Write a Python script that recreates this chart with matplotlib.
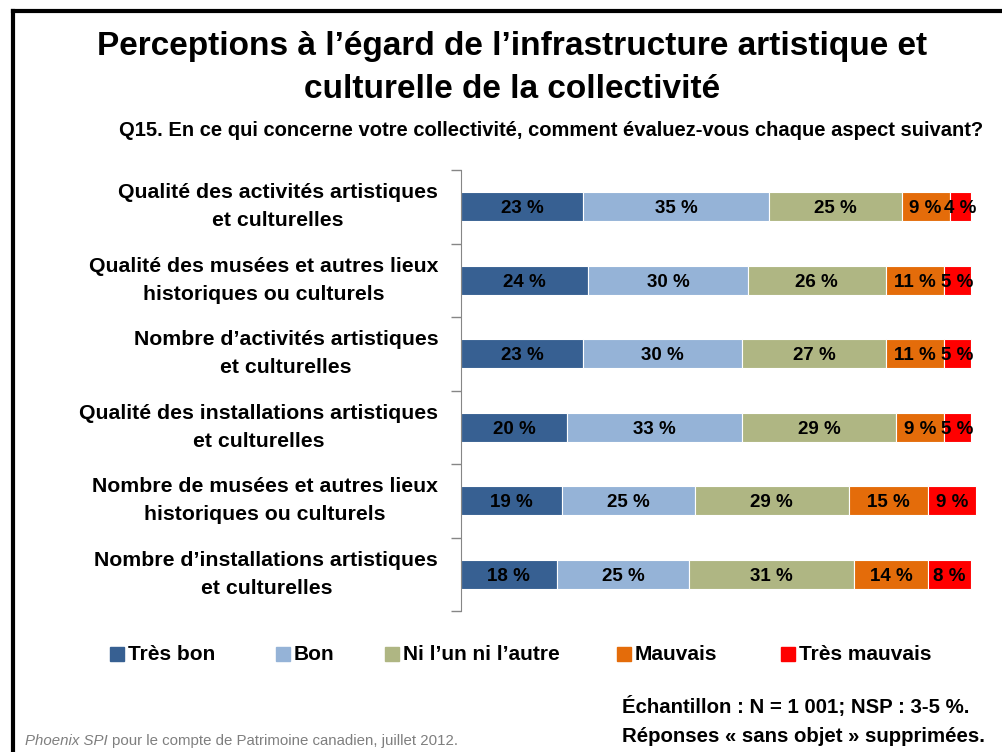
import matplotlib
matplotlib.use("Agg")
import matplotlib.pyplot as plt
from matplotlib.patches import Rectangle
from matplotlib.lines import Line2D

plt.rcParams['font.family'] = ['Liberation Sans', 'DejaVu Sans']

categories = [
    "Qualité des activités artistiques\net culturelles",
    "Qualité des musées et autres lieux\nhistoriques ou culturels",
    "Nombre d\u2019activités artistiques\net culturelles",
    "Qualité des installations artistiques\net culturelles",
    "Nombre de musées et autres lieux\nhistoriques ou culturels",
    "Nombre d\u2019installations artistiques\net culturelles",
]
series = ["Très bon", "Bon", "Ni l\u2019un ni l\u2019autre", "Mauvais", "Très mauvais"]
tres_bon = [23, 24, 23, 20, 19, 18]
bon = [35, 30, 30, 33, 25, 25]
ni = [25, 26, 27, 29, 29, 31]
mauvais = [9, 11, 11, 9, 15, 14]
tres_mauvais = [4, 5, 5, 5, 9, 8]
values = [tres_bon, bon, ni, mauvais, tres_mauvais]
colors = ["#376092", "#95B3D7", "#AFB683", "#E46C0A", "#FF0000"]

fig = plt.figure(figsize=(10.02, 7.52), dpi=100)
W, H = 1002, 752

def fx(px): return px / W
def fy(py): return 1 - py / H

ax = fig.add_axes([fx(461), fy(611), (992 - 461) / W, (611 - 170) / H])

ypos = list(range(len(categories)))
left = [0] * len(categories)
for vals, col in zip(values, colors):
    bars = ax.barh(ypos, vals, left=left, height=0.4, color=col,
                   edgecolor="white", linewidth=0.8)
    for b, v in zip(bars, vals):
        ax.text(b.get_x() + b.get_width() / 2, b.get_y() + b.get_height() / 2,
                f"{v} %", ha="center", va="center_baseline", fontsize=13.5,
                fontweight="bold", color="black")
    left = [a + b for a, b in zip(left, vals)]

ax.set_xlim(0, 100)
ax.set_ylim(len(categories) - 0.5, -0.5)
ax.set_xticks([])
ax.set_yticks([i - 0.5 for i in range(len(categories) + 1)])
ax.set_yticklabels([])
ax.tick_params(axis="y", length=7, color="#868686", width=1)
for s in ["top", "right", "bottom"]:
    ax.spines[s].set_visible(False)
ax.spines["left"].set_color("#868686")

for i, c in enumerate(categories):
    ax.text(-0.043, 1 - (i + 0.5) / len(categories), c, transform=ax.transAxes,
            ha="right", va="center", multialignment="center", fontsize=15.3,
            fontweight="bold", linespacing=1.6)

# titles
fig.text(fx(512), fy(46), "Perceptions à l\u2019égard de l\u2019infrastructure artistique et",
         ha="center", va="center", fontsize=24, fontweight="bold")
fig.text(fx(512), fy(89), "culturelle de la collectivité",
         ha="center", va="center", fontsize=24, fontweight="bold")
fig.text(fx(551), fy(130), "Q15. En ce qui concerne votre collectivité, comment évaluez-vous chaque aspect suivant?",
         ha="center", va="center", fontsize=14.5, fontweight="bold")

# legend
leg_x = [110, 276, 385, 617, 781]
for x, lab, col in zip(leg_x, series, colors):
    fig.patches.append(Rectangle((fx(x), fy(661)), 14 / W, 14 / H, color=col,
                                 transform=fig.transFigure, figure=fig))
    fig.text(fx(x + 18), fy(654), lab, ha="left", va="center", fontsize=15,
             fontweight="bold")

# notes
fig.text(fx(622), fy(706), "Échantillon : N = 1 001; NSP : 3-5 %.",
         ha="left", va="center", fontsize=14.7, fontweight="bold")
fig.text(fx(622), fy(736), "Réponses « sans objet » supprimées.",
         ha="left", va="center", fontsize=14.7, fontweight="bold")
t = fig.text(fx(25), fy(741), "Phoenix SPI", ha="left", va="center",
             fontsize=10.8, style="italic", color="#7F7F7F")
fig.canvas.draw()
bb = t.get_window_extent()
fig.text((bb.x1 + 4) / W, fy(741), "pour le compte de Patrimoine canadien, juillet 2012.",
         ha="left", va="center", fontsize=10.8, color="#7F7F7F")

# frame
fig.add_artist(Line2D([fx(12.5), fx(12.5)], [0, fy(10.5)], color="black", lw=3,
                      transform=fig.transFigure, solid_capstyle="projecting"))
fig.add_artist(Line2D([fx(12.5), 1], [fy(10.5), fy(10.5)], color="black", lw=3,
                      transform=fig.transFigure, solid_capstyle="projecting"))

fig.savefig("out.png", dpi=100)
